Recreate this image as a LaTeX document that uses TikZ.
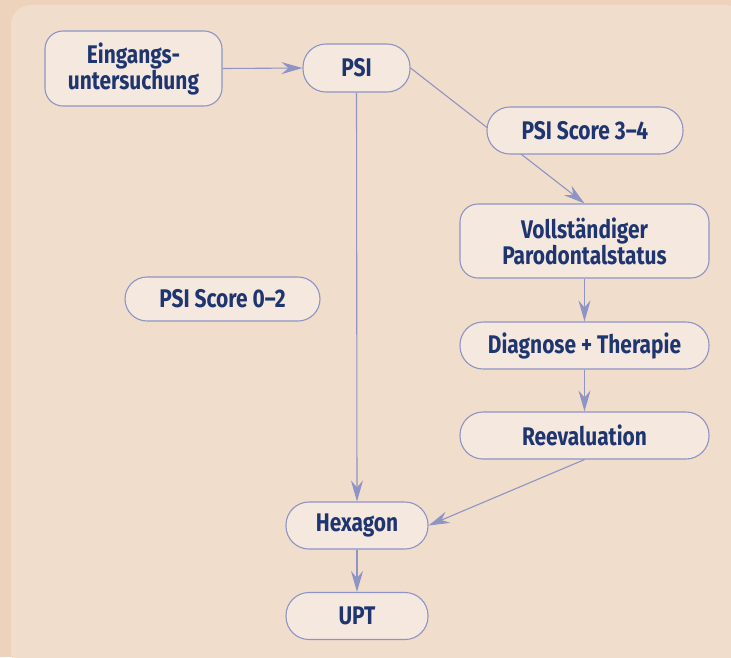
\documentclass[tikz,border=0pt]{standalone}
\usepackage{fontspec}
\setmainfont{Fira Sans}[FakeStretch=0.82, BoldFont={Fira Sans Bold}]
\usetikzlibrary{arrows.meta}
\definecolor{outerbg}{HTML}{EDD3BC}
\definecolor{innerbg}{HTML}{F0DDCB}
\definecolor{boxfill}{HTML}{F5E8DF}
\definecolor{edgecol}{HTML}{8E94C4}
\definecolor{txtcol}{HTML}{1E3570}
\tikzset{
  box/.style={draw=edgecol, line width=1.1pt, fill=boxfill, rounded corners=18pt,
    text=txtcol, font=\fontsize{25.5}{26}\selectfont\bfseries, align=center, inner sep=0pt},
  pill/.style={box, rounded corners=23pt},
  conn/.style={draw=edgecol, line width=1.1pt},
  arr/.style={conn, -{Stealth[length=21pt,width=12pt,inset=7pt]}}
}
\begin{document}
\begin{tikzpicture}[x=1pt,y=-1pt]
\useasboundingbox (0,0) rectangle (731,657);
\fill[outerbg] (0,0) rectangle (731,657);
\fill[innerbg, rounded corners=20pt] (11,5) rectangle (745,672);
% nodes
\node[box, minimum width=177pt, minimum height=75pt] (ein) at (133.5,68.5) {Eingangs-\\untersuchung};
\node[pill, minimum width=107pt, minimum height=48pt] (psi) at (356.5,68) {PSI};
\node[box, minimum width=249pt, minimum height=74pt] (voll) at (584.5,241) {Vollständiger\\Parodontalstatus};
\node[pill, minimum width=249pt, minimum height=47pt] (diag) at (584.5,345.5) {Diagnose + Therapie};
\node[pill, minimum width=249pt, minimum height=47pt] (reev) at (584.5,435.5) {Reevaluation};
\node[pill, minimum width=142pt, minimum height=47pt] (hex) at (357,525.5) {Hexagon};
\node[pill, minimum width=142pt, minimum height=47pt] (upt) at (357,616) {UPT};
\node[pill, minimum width=195pt, minimum height=44pt, rounded corners=22pt] (s02) at (222.5,299) {PSI Score 0--2};
% connectors
\draw[arr] (ein.east) -- (psi.west);
\draw[arr] (psi.south) -- (hex.north);
\draw[arr] (psi.east) -- (voll.north);
\node[pill, minimum width=196pt, minimum height=47pt] (s34) at (585,130.5) {PSI Score 3--4};
\draw[arr] (voll.south) -- (diag.north);
\draw[arr] (diag.south) -- (reev.north);
\draw[arr] (reev.south) -- (hex.east);
\draw[arr] (hex.south) -- (upt.north);
\end{tikzpicture}
\end{document}
